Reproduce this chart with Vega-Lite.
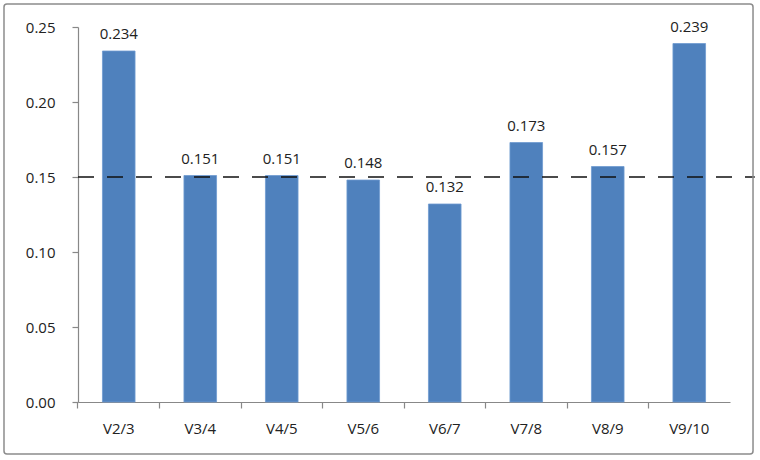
{
  "$schema": "https://vega.github.io/schema/vega-lite/v6.json",
  "autosize": {"type": "none"},
  "width": 652,
  "height": 375,
  "padding": {"left": 78, "top": 27, "right": 30, "bottom": 58},
  "background": "white",
  "config": {
    "view": {"stroke": null},
    "font": "Open Sans",
    "axis": {"grid": false, "domainColor": "#888888", "tickColor": "#888888", "labelColor": "#222222", "labelFontSize": 15, "labelFont": "Open Sans", "title": null, "tickSize": 6, "domainWidth": 1.2, "tickWidth": 1.2}
  },
  "datasets": {
    "bars": [
      {"pair": "V2/3", "value": 0.234},
      {"pair": "V3/4", "value": 0.151},
      {"pair": "V4/5", "value": 0.151},
      {"pair": "V5/6", "value": 0.148},
      {"pair": "V6/7", "value": 0.132},
      {"pair": "V7/8", "value": 0.173},
      {"pair": "V8/9", "value": 0.157},
      {"pair": "V9/10", "value": 0.239}
    ],
    "ref": [{"level": 0.15, "from": 0, "to": 1.038}],
    "frame": [{"x1": -0.1135, "x2": 1.0353, "y1": -0.0347, "y2": 0.2653}]
  },
  "layer": [
    {
      "layer": [
        {
          "data": {"name": "bars"},
          "mark": {"type": "bar", "color": "#4F81BD", "stroke": "#6f9ad0", "strokeWidth": 0.8},
          "encoding": {
            "x": {"field": "pair", "type": "nominal", "sort": null,
                  "scale": {"paddingInner": 0.6, "paddingOuter": 0.3},
                  "axis": {"labelAngle": 0, "bandPosition": -0.75, "labelPadding": 13}},
            "y": {"field": "value", "type": "quantitative",
                  "scale": {"domain": [0, 0.25], "nice": false},
                  "axis": {"values": [0, 0.05, 0.1, 0.15, 0.2, 0.25], "format": ".2f", "labelPadding": 17}}
          }
        },
        {
          "data": {"name": "bars"},
          "mark": {"type": "text", "dy": -17, "fontSize": 15, "color": "#222222", "font": "Open Sans"},
          "encoding": {
            "x": {"field": "pair", "type": "nominal", "sort": null},
            "y": {"field": "value", "type": "quantitative"},
            "text": {"field": "value", "type": "quantitative", "format": ".3f"}
          }
        }
      ]
    },
    {
      "layer": [
        {
          "data": {"name": "ref"},
          "mark": {"type": "rule", "color": "#111111", "strokeWidth": 1.6, "strokeDash": [16, 13], "clip": false},
          "encoding": {
            "x": {"field": "from", "type": "quantitative", "scale": {"domain": [0, 1], "nice": false, "zero": false}, "axis": null},
            "x2": {"field": "to"},
            "y": {"field": "level", "type": "quantitative"}
          }
        },
        {
          "data": {"name": "frame"},
          "mark": {"type": "rect", "fill": null, "stroke": "#8c8c8c", "strokeWidth": 1.5, "cornerRadius": 3, "clip": false},
          "encoding": {
            "x": {"field": "x1", "type": "quantitative", "axis": null},
            "x2": {"field": "x2"},
            "y": {"field": "y1", "type": "quantitative"},
            "y2": {"field": "y2"}
          }
        }
      ]
    }
  ],
  "resolve": {"scale": {"x": "independent"}}
}
